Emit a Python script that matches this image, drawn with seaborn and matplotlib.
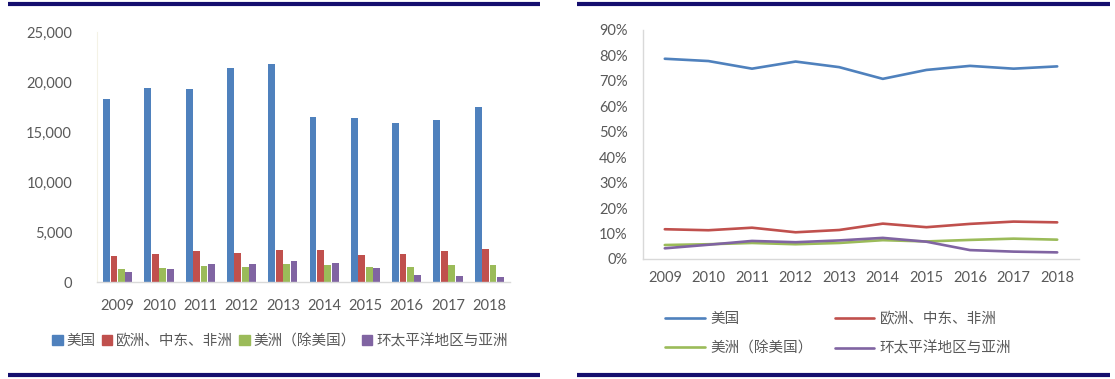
import matplotlib
matplotlib.use("Agg")
import matplotlib.pyplot as plt
from matplotlib.lines import Line2D
from matplotlib.ticker import FuncFormatter, MultipleLocator
import seaborn as sns
import pandas as pd

sns.set_theme(style="white")
plt.rcParams['font.family'] = ['Lato', 'Noto Sans CJK SC', 'DejaVu Sans']

years = ["2009", "2010", "2011", "2012", "2013", "2014", "2015", "2016", "2017", "2018"]
regions = ["美国", "欧洲、中东、非洲", "美洲（除美国）", "环太平洋地区与亚洲"]

# left: values
us_val = [18270, 19430, 19330, 21430, 21800, 16530, 16430, 15870, 16200, 17530]
emea_val = [2630, 2800, 3100, 2900, 3230, 3200, 2700, 2830, 3070, 3270]
amer_val = [1270, 1400, 1570, 1470, 1800, 1670, 1470, 1500, 1670, 1700]
apac_val = [970, 1300, 1770, 1770, 2100, 1930, 1430, 670, 570, 530]

# right: shares (%)
us_pct = [78.7, 77.8, 74.8, 77.6, 75.4, 70.8, 74.3, 75.9, 74.8, 75.7]
emea_pct = [11.7, 11.3, 12.3, 10.5, 11.4, 13.9, 12.5, 13.8, 14.7, 14.4]
amer_pct = [5.5, 5.8, 6.3, 5.8, 6.3, 7.4, 6.9, 7.5, 8.0, 7.6]
apac_pct = [4.2, 5.6, 7.1, 6.6, 7.3, 8.3, 6.8, 3.5, 2.9, 2.6]

colors = ["#4F81BD", "#C0504D", "#9BBB59", "#8064A2"]
txt = "#595959"
fs = 10.5

val_df = pd.DataFrame({
    "year": years * 4,
    "region": sum([[r] * len(years) for r in regions], []),
    "value": us_val + emea_val + amer_val + apac_val,
})
pct_df = pd.DataFrame({
    "year": years * 4,
    "region": sum([[r] * len(years) for r in regions], []),
    "pct": us_pct + emea_pct + amer_pct + apac_pct,
})

fig = plt.figure(figsize=(11.15, 3.79), dpi=100)
W, H = 1115, 379

def fx(px):
    return px / W

def fy(py):
    return 1 - py / H

# ---- left bar chart ----
ax1 = fig.add_axes([fx(97), fy(282), fx(510) - fx(97), fy(32) - fy(282)])
sns.barplot(data=val_df, x="year", y="value", hue="region", hue_order=regions,
            palette=colors, width=0.72, gap=0.08, ax=ax1, legend=False,
            saturation=1, linewidth=0)
ax1.set_ylim(0, 25000)
ax1.set_xlim(-0.5, 9.5)
ax1.yaxis.set_major_locator(MultipleLocator(5000))
ax1.yaxis.set_major_formatter(FuncFormatter(lambda v, p: f"{int(v):,}"))
ax1.set_xlabel("")
ax1.set_ylabel("")
for s in ["top", "right"]:
    ax1.spines[s].set_visible(False)
ax1.spines["left"].set_color("#f4f2e6")
ax1.spines["left"].set_linewidth(0.8)
ax1.spines["bottom"].set_color("#d9d9d9")
ax1.spines["bottom"].set_linewidth(1.0)
ax1.tick_params(axis="both", length=0, colors=txt, labelsize=fs)
ax1.tick_params(axis="y", pad=18)
ax1.tick_params(axis="x", pad=12)

h1 = [plt.Rectangle((0, 0), 1, 1, color=c) for c in colors]
fig.legend(h1, regions, loc="center", bbox_to_anchor=(fx(280), fy(341)),
           ncol=4, frameon=False, fontsize=fs, handlelength=0.7,
           handleheight=0.7, handletextpad=0.25, columnspacing=0.45,
           labelcolor=txt)

# ---- right line chart ----
ax2 = fig.add_axes([fx(643), fy(259), fx(1079) - fx(643), fy(30) - fy(259)])
sns.lineplot(data=pct_df, x="year", y="pct", hue="region", hue_order=regions,
             palette=colors, linewidth=1.9, ax=ax2, legend=False, sort=False)
ax2.set_ylim(0, 90)
ax2.set_xlim(-0.5, 9.5)
ax2.yaxis.set_major_locator(MultipleLocator(10))
ax2.yaxis.set_major_formatter(FuncFormatter(lambda v, p: f"{int(v)}%"))
ax2.set_xlabel("")
ax2.set_ylabel("")
for s in ["top", "right"]:
    ax2.spines[s].set_visible(False)
ax2.spines["left"].set_color("#d9d9d9")
ax2.spines["bottom"].set_color("#d9d9d9")
ax2.spines["left"].set_linewidth(1.0)
ax2.spines["bottom"].set_linewidth(1.0)
ax2.tick_params(axis="y", length=3, colors=txt, labelsize=fs, pad=8)
ax2.tick_params(axis="y", color="#d9d9d9")
ax2.tick_params(axis="x", length=0, colors=txt, labelsize=fs, pad=9)

h2 = [Line2D([0], [0], color=c, linewidth=1.9) for c in colors]
order = [0, 2, 1, 3]
fig.legend([h2[i] for i in order], [regions[i] for i in order], loc="upper left",
           bbox_to_anchor=(fx(652), fy(299)), ncol=2, frameon=False,
           fontsize=fs, handlelength=2.7, handletextpad=0.4,
           columnspacing=1.5, labelspacing=1.05, labelcolor=txt)

# ---- navy frame lines ----
navy = "#140E6E"
for (x0, x1) in [(8, 540), (577, 1110)]:
    for yy in (4, 375):
        fig.add_artist(Line2D([fx(x0), fx(x1)], [fy(yy), fy(yy)], color=navy,
                              linewidth=3.0, solid_capstyle="butt"))

fig.savefig("out.png", dpi=100, facecolor="white")
